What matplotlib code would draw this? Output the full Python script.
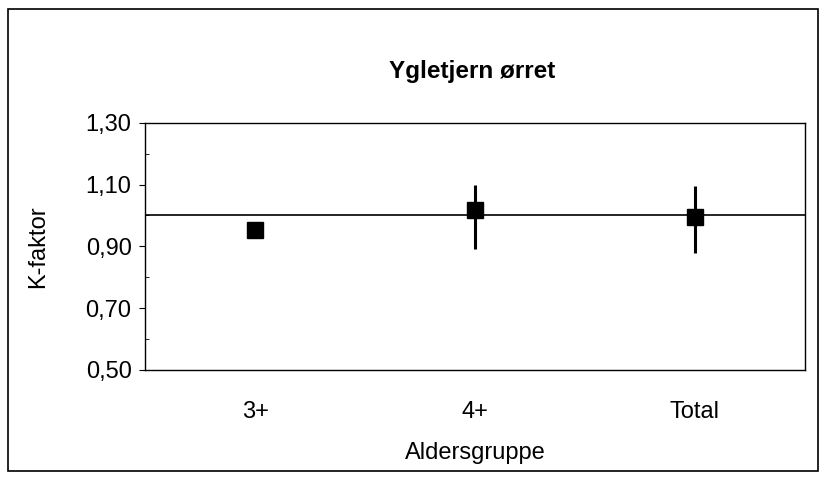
import numpy as np
import matplotlib.pyplot as plt
from matplotlib.patches import Rectangle
from matplotlib.ticker import MultipleLocator

# K-faktor per aldersgruppe
groups = ['3+', '4+', 'Total']
k_mean = [0.954, 1.017, 0.994]
k_low = [0.954, 0.890, 0.878]
k_high = [0.954, 1.100, 1.096]
ref_level = 1.0
yticks = [0.50, 0.70, 0.90, 1.10, 1.30]

plt.rcParams['font.family'] = ['Liberation Sans', 'DejaVu Sans']

fig = plt.figure(figsize=(8.22, 4.83), dpi=100)
ax = fig.add_axes([0.177, 0.234, 0.802, 0.512])

x = np.arange(1, len(groups) + 1)
mean = np.array(k_mean)
yerr = [mean - np.array(k_low), np.array(k_high) - mean]
ax.errorbar(x, mean, yerr=yerr, fmt='s', color='black', ms=12,
            elinewidth=2.2, capsize=0, zorder=3)
ax.axhline(ref_level, color='black', lw=1.2, zorder=2)

ax.set_xlim(0.5, 3.5)
ax.set_ylim(0.50, 1.30)
ax.set_yticks(yticks)
ax.set_yticklabels([f'{v:.2f}'.replace('.', ',') for v in yticks])
ax.yaxis.set_minor_locator(MultipleLocator(0.10))
ax.set_xticks(x)
ax.set_xticklabels(groups)
ax.tick_params(axis='x', length=0, pad=22, labelsize=17)
ax.tick_params(axis='y', which='major', length=4, labelsize=17, direction='out', pad=6)
ax.tick_params(axis='y', which='minor', length=3, direction='in')
for s in ax.spines.values():
    s.set_linewidth(1.0)

ax.set_xlabel('Aldersgruppe', fontsize=17, labelpad=14)
ax.set_ylabel('K-faktor', fontsize=17, labelpad=26)
fig.text(0.574, 0.851, 'Ygletjern ørret', ha='center', va='center',
         fontsize=17.5, fontweight='bold')

fig.patches.append(Rectangle((0.010, 0.025), 0.985, 0.957, transform=fig.transFigure,
                             fill=False, edgecolor='black', lw=1.2))

fig.savefig('out.png', dpi=100)
